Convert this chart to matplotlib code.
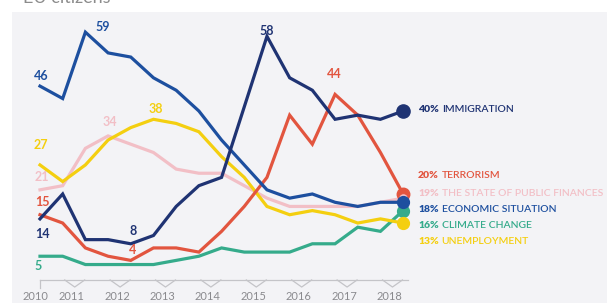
import matplotlib.pyplot as plt
import numpy as np
from matplotlib.patches import Rectangle

plt.rcParams['font.family'] = ['Lato', 'DejaVu Sans']

# Survey waves (autumn 2010 .. autumn 2018)
waves = ['EB74', 'EB75', 'EB76', 'EB77', 'EB78', 'EB79', 'EB80', 'EB81', 'EB82',
         'EB83', 'EB84', 'EB85', 'EB86', 'EB87', 'EB88', 'EB89', 'EB90']
year_labels = ['2010', '2011', '2012', '2013', '2014', '2015', '2016', '2017', '2018']

immigration = [14, 20, 9, 9, 8, 10, 17, 22, 24, 41, 58, 48, 45, 38, 39, 38, 40]
economic = [46, 43, 59, 54, 53, 48, 45, 40, 33, 27, 21, 19, 20, 18, 17, 18, 18]
terrorism = [15, 13, 7, 5, 4, 7, 7, 6, 11, 17, 24, 39, 32, 44, 39, 30, 20]
public_finances = [21, 22, 31, 34, 32, 30, 26, 25, 25, 22, 19, 17, 17, 17, 17, 18, 19]
climate = [5, 5, 3, 3, 3, 3, 4, 5, 7, 6, 6, 6, 8, 8, 12, 11, 16]
unemployment = [27, 23, 27, 33, 36, 38, 37, 35, 29, 24, 17, 15, 16, 15, 13, 14, 13]

NAVY = '#1f3373'
BLUE = '#1d4f9f'
RED = '#e2553f'
PINK = '#f2bfc6'
YELLOW = '#f4cf10'
GREEN = '#35ab8b'

series = [
    ('THE STATE OF PUBLIC FINANCES', public_finances, PINK),
    ('CLIMATE CHANGE', climate, GREEN),
    ('UNEMPLOYMENT', unemployment, YELLOW),
    ('TERRORISM', terrorism, RED),
    ('ECONOMIC SITUATION', economic, BLUE),
    ('IMMIGRATION', immigration, NAVY),
]

W, H = 609, 303
fig = plt.figure(figsize=(W / 100, H / 100), dpi=100)
fig.patch.set_facecolor('white')
fig.patches.append(Rectangle((12 / W, 0), (607 - 12) / W, (H - 12) / H,
                             transform=fig.transFigure, facecolor='#f3f3f6',
                             edgecolor='none', zorder=-1))

ax = fig.add_axes([0, 0, 1, 1])
ax.set_zorder(1)
ax.set_facecolor('none')
ax.axis('off')
ax.set_xlim(-1.762, 25.07)
ax.set_ylim(-6.27, 66.75)

x = np.arange(len(waves))
for name, vals, color in series:
    ax.plot(x, vals, color=color, lw=2.3, solid_joinstyle='miter', zorder=3)

# end dots
ax.plot(x[-1], terrorism[-1], 'o', ms=9, color=RED, zorder=4)
ax.plot(x[-1], public_finances[-1], 'o', ms=7, color=PINK, mec=RED, mew=0.8, zorder=5)
ax.plot(x[-1], climate[-1], 'o', ms=8.5, color=GREEN, zorder=5)
ax.plot(x[-1], unemployment[-1], 'o', ms=8.5, color=YELLOW, zorder=5)
ax.plot(x[-1], economic[-1], 'o', ms=8.5, color=BLUE, zorder=6)
ax.plot(x[-1], immigration[-1], 'o', ms=9.5, color=NAVY, zorder=6)

# value labels
notes = [
    (economic, 0, '46', BLUE, 1, 10),
    (economic, 2, '59', BLUE, 17, 5),
    (unemployment, 0, '27', YELLOW, 1, 20),
    (public_finances, 0, '21', PINK, 2, 13),
    (terrorism, 0, '15', RED, 2, 13),
    (immigration, 0, '14', NAVY, 2, -15),
    (climate, 0, '5', GREEN, -2, -10),
    (public_finances, 3, '34', PINK, 2, 14),
    (unemployment, 5, '38', YELLOW, 2, 10),
    (immigration, 4, '8', NAVY, 2, 13),
    (terrorism, 4, '4', RED, 2, 10),
    (immigration, 10, '58', NAVY, 0, 5),
    (terrorism, 13, '44', RED, -1, 20),
]
for vals, i, txt, color, dx, dy in notes:
    ax.annotate(txt, (x[i], vals[i]), xytext=(dx, dy), textcoords='offset pixels',
                ha='center', va='center', color=color, fontsize=9, fontweight='bold',
                zorder=7)

# x axis with year boundary notches
axis_y = -0.72
ax.plot([0, 16.2], [axis_y, axis_y], color='#c4c4c8', lw=0.9, zorder=2)
ax.plot([0, 0], [axis_y, axis_y - 1.9], color='#c4c4c8', lw=0.9, zorder=2)
for k in range(8):
    p = 1.53 + 2 * k
    ax.plot([p - 0.44, p, p + 0.44], [axis_y, axis_y - 1.7, axis_y],
            color='#c4c4c8', lw=0.9, zorder=2)
year_pos = [-0.18] + [1.4 + 2 * k for k in range(8)]
for p, lab in zip(year_pos, year_labels):
    ax.text(p, -4.8, lab, ha='center', va='center', fontsize=8, color='#8a8a8e')

# right-hand labels
fig.canvas.draw()
renderer = fig.canvas.get_renderer()
end_labels = [
    (110, '40%', 'IMMIGRATION', NAVY),
    (175, '20%', 'TERRORISM', RED),
    (193, '19%', 'THE STATE OF PUBLIC FINANCES', PINK),
    (210, '18%', 'ECONOMIC SITUATION', BLUE),
    (225, '16%', 'CLIMATE CHANGE', GREEN),
    (242, '13%', 'UNEMPLOYMENT', YELLOW),
]
for ypx, pct, name, color in end_labels:
    t = fig.text(418 / W, 1 - ypx / H, pct, ha='left', va='center', fontsize=7.5,
                 fontweight='heavy', color=color)
    bb = t.get_window_extent(renderer)
    fig.text((bb.x1 + 3) / W, 1 - ypx / H, name, ha='left', va='center',
             fontsize=7.5, fontweight='semibold', color=color)

# cut-off heading at top
fig.text(23 / W, 1 - 3 / H, 'EU citizens', ha='left', va='baseline',
         fontsize=13, color='#8c8c8c')

fig.savefig('out.png', dpi=100)
